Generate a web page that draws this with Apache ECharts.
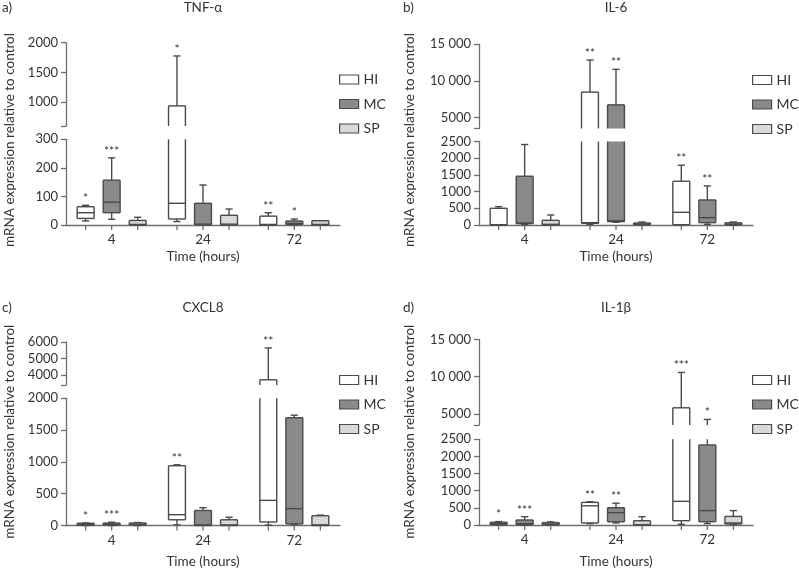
<!DOCTYPE html>
<html><head><meta charset="utf-8">
<script src="https://cdn.jsdelivr.net/npm/echarts@6/dist/echarts.min.js"></script>
<style>html,body{margin:0;padding:0;background:#fff}#c{width:799px;height:574px}</style>
</head><body><div id="c"></div>
<script>
// ---------------- DATA ----------------
const categories = ['4', '24', '72'];
const groups = ['HI', 'MC', 'SP'];
// each box: [min, Q1, median, Q3, max]
const tnfHI = [[14, 23, 43, 64, 69], [12, 21, 76, 938, 1777], [0, 0, 2, 31, 43]];
const tnfMC = [[20, 43, 80, 157, 235], [0, 0, 3, 76, 140], [0, 2, 5, 14, 21]];
const tnfSP = [[0, 0, 2, 16, 27], [0, 0, 3, 34, 56], [0, 0, 2, 15, 15]];
const tnfStarsHI = ['*', '*', '**'];
const tnfStarsMC = ['***', '', '*'];
const tnfStarsSP = ['', '', ''];

const il6HI = [[0, 0, 10, 500, 550], [20, 50, 70, 8470, 12850], [5, 10, 380, 1310, 1790]];
const il6MC = [[10, 40, 60, 1460, 2410], [80, 100, 130, 6730, 11580], [20, 70, 220, 750, 1170]];
const il6SP = [[0, 0, 20, 140, 300], [0, 10, 30, 60, 90], [0, 10, 30, 65, 90]];
const il6StarsHI = ['', '**', '**'];
const il6StarsMC = ['', '**', '**'];
const il6StarsSP = ['', '', ''];

const cxcl8HI = [[0, 5, 15, 35, 40], [10, 90, 170, 940, 955], [5, 55, 395, 3715, 5640]];
const cxcl8MC = [[0, 10, 20, 38, 52], [0, 0, 10, 236, 280], [15, 25, 265, 1695, 1735]];
const cxcl8SP = [[0, 10, 20, 40, 47], [0, 0, 10, 90, 130], [0, 0, 10, 153, 163]];
const cxcl8StarsHI = ['*', '**', '**'];
const cxcl8StarsMC = ['***', '', ''];
const cxcl8StarsSP = ['', '', ''];

const il1bHI = [[0, 10, 40, 80, 100], [40, 60, 560, 660, 680], [20, 125, 690, 5810, 10560]];
const il1bMC = [[0, 10, 40, 146, 243], [60, 95, 360, 505, 635], [40, 95, 420, 2335, 4250]];
const il1bSP = [[0, 10, 30, 70, 90], [0, 0, 10, 125, 243], [10, 30, 60, 250, 420]];
const il1bStarsHI = ['*', '**', '***'];
const il1bStarsMC = ['***', '**', '*'];
const il1bStarsSP = ['', '', ''];

// axis tick values
const tnfTopTicks = [600, 1000, 1500, 2000];
const il6TopTicks = [3500, 5000, 10000, 15000];
const cxcl8TopTicks = [3400, 4000, 5000, 6000];
const il1bTopTicks = [3500, 5000, 10000, 15000];

// ---------------- LAYOUT / STYLE ----------------
const FONT = 'Lato';
const TXT = '#333333';
const AXIS = '#6e6e6e';
const STROKE = '#4a4a4a';
const fills = { HI: '#ffffff', MC: '#8a8a8a', SP: '#d9d9d9' };
const offsets = { HI: -0.285, MC: 0, SP: 0.285 };

const panels = [
  { letter: 'a)', title: 'TNF-α', left: 66, width: 274, topSeg: [42.7, 126], botSeg: [139.3, 225],
    topTicks: tnfTopTicks, botMax: 300, botInterval: 100,
    data: { HI: tnfHI, MC: tnfMC, SP: tnfSP }, stars: { HI: tnfStarsHI, MC: tnfStarsMC, SP: tnfStarsSP },
    legend: [339, 71], letterPos: [2, 8], titleY: 8, xNameY: 256.7, yNamePos: [9.5, 140] },
  { letter: 'b)', title: 'IL-6', left: 479, width: 274, topSeg: [44.3, 128.5], botSeg: [141.5, 225],
    topTicks: il6TopTicks, botMax: 2500, botInterval: 500,
    data: { HI: il6HI, MC: il6MC, SP: il6SP }, stars: { HI: il6StarsHI, MC: il6StarsMC, SP: il6StarsSP },
    legend: [752, 71.5], letterPos: [403, 8], titleY: 8, xNameY: 256.7, yNamePos: [409.5, 140] },
  { letter: 'c)', title: 'CXCL8', left: 66, width: 274, topSeg: [342, 385], botSeg: [398.3, 525.5],
    topTicks: cxcl8TopTicks, botMax: 2000, botInterval: 500,
    data: { HI: cxcl8HI, MC: cxcl8MC, SP: cxcl8SP }, stars: { HI: cxcl8StarsHI, MC: cxcl8StarsMC, SP: cxcl8StarsSP },
    legend: [339, 371.5], letterPos: [2, 308], titleY: 308, xNameY: 561.7, yNamePos: [9.5, 431.7] },
  { letter: 'd)', title: 'IL-1β', left: 479, width: 274, topSeg: [339.4, 425], botSeg: [439.3, 525],
    topTicks: il1bTopTicks, botMax: 2500, botInterval: 500,
    data: { HI: il1bHI, MC: il1bMC, SP: il1bSP }, stars: { HI: il1bStarsHI, MC: il1bStarsMC, SP: il1bStarsSP },
    legend: [752, 371.5], letterPos: [403, 308], titleY: 308, xNameY: 561.7, yNamePos: [409.5, 431.7] }
];

function fmt(v) {
  const s = String(v);
  return v >= 10000 ? s.replace(/\B(?=(\d{3})+(?!\d))/g, ' ') : s;
}

function makeRender(lo, hi, off, fill, isBottom, stars) {
  return function (params, api) {
    const i = api.value(0);
    const mn = api.value(1), q1 = api.value(2), md = api.value(3), q3 = api.value(4), mx = api.value(5);
    const band = api.size([1, 0])[0];
    const cx = api.coord([i, lo])[0] + off * band;
    const bw = band * 0.185, hw = bw / 2, cw = 3.6;
    const cl = v => Math.max(lo, Math.min(hi, v));
    const Y = v => api.coord([i, cl(v)])[1];
    const ls = { stroke: STROKE, lineWidth: 1.4 };
    const L = (x1, y1, x2, y2, st) => ({ type: 'line', shape: { x1, y1, x2, y2 }, style: st || ls });
    const ch = [];
    if (mx > lo && q3 < hi) {
      ch.push(L(cx, Y(q3), cx, Y(mx)));
      if (mx <= hi) ch.push(L(cx - cw, Y(mx), cx + cw, Y(mx)));
    }
    if (q1 > lo && mn < hi) {
      ch.push(L(cx, Y(mn), cx, Y(q1)));
      if (mn >= lo) ch.push(L(cx - cw, Y(mn), cx + cw, Y(mn)));
    }
    if (q3 > lo && q1 < hi) {
      const yt = Y(q3), yb = Y(q1);
      ch.push({ type: 'rect', shape: { x: cx - hw, y: yt, width: bw, height: yb - yt }, style: { fill: fill } });
      ch.push(L(cx - hw, yt, cx - hw, yb));
      ch.push(L(cx + hw, yt, cx + hw, yb));
      if (q3 <= hi) ch.push(L(cx - hw, yt, cx + hw, yt));
      if (q1 >= lo) ch.push(L(cx - hw, yb, cx + hw, yb));
      if (md >= lo && md <= hi) ch.push(L(cx - hw, Y(md), cx + hw, Y(md)));
    }
    if (stars[i] && mx >= lo && mx <= hi) {
      ch.push({ type: 'text', x: cx, y: Y(mx) - 1,
        style: { text: stars[i], textAlign: 'center', textVerticalAlign: 'bottom', fontSize: 12, fontFamily: FONT, fill: TXT } });
    }
    if (isBottom) {
      const y0 = Y(lo);
      ch.push(L(cx, y0, cx, y0 + 5, { stroke: AXIS, lineWidth: 1.3 }));
    }
    return { type: 'group', children: ch };
  };
}

const grid = [], xAxis = [], yAxis = [], series = [], legend = [], graphic = [];
const axisLineStyle = { color: AXIS, width: 1.3 };
const labelStyle = { color: TXT, fontSize: 13, fontFamily: FONT };

panels.forEach((p, k) => {
  const ti = 2 * k, bi = 2 * k + 1;
  grid.push({ left: p.left, width: p.width, top: p.topSeg[0], height: p.topSeg[1] - p.topSeg[0], outerBoundsMode: 'none', containLabel: false });
  grid.push({ left: p.left, width: p.width, top: p.botSeg[0], height: p.botSeg[1] - p.botSeg[0], outerBoundsMode: 'none', containLabel: false });
  xAxis.push({ type: 'category', gridIndex: ti, data: categories, show: false });
  xAxis.push({ type: 'category', gridIndex: bi, data: categories,
    axisLine: { lineStyle: axisLineStyle }, axisTick: { show: false },
    axisLabel: { margin: 8, ...labelStyle, fontSize: 13.5 }, splitLine: { show: false } });
  const tt = p.topTicks;
  yAxis.push({ type: 'value', gridIndex: ti, min: tt[0], max: tt[tt.length - 1],
    axisLine: { show: true, lineStyle: axisLineStyle },
    axisTick: { show: true, length: 5, lineStyle: axisLineStyle, customValues: tt },
    axisLabel: { margin: 8, customValues: tt.slice(1), formatter: fmt, ...labelStyle },
    splitLine: { show: false } });
  yAxis.push({ type: 'value', gridIndex: bi, min: 0, max: p.botMax, interval: p.botInterval,
    axisLine: { show: true, lineStyle: axisLineStyle },
    axisTick: { show: true, length: 5, lineStyle: axisLineStyle },
    axisLabel: { margin: 8, formatter: fmt, ...labelStyle },
    splitLine: { show: false } });

  groups.forEach(g => {
    const rows = p.data[g].map((d, i) => [i].concat(d));
    series.push({ type: 'custom', name: g, xAxisIndex: ti, yAxisIndex: ti, data: rows, encode: { x: 0, y: 1 },
      itemStyle: { color: fills[g], borderColor: STROKE },
      renderItem: makeRender(tt[0], tt[tt.length - 1], offsets[g], fills[g], false, p.stars[g]) });
    series.push({ type: 'custom', name: g, xAxisIndex: bi, yAxisIndex: bi, data: rows, encode: { x: 0, y: 1 },
      itemStyle: { color: fills[g], borderColor: STROKE },
      renderItem: makeRender(0, p.botMax, offsets[g], fills[g], true, p.stars[g]) });
  });

  legend.push({ orient: 'vertical', left: p.legend[0], top: p.legend[1], padding: 0,
    itemWidth: 19, itemHeight: 9, itemGap: 7.5, selectedMode: false,
    textStyle: { color: TXT, fontSize: 14, fontFamily: FONT, lineHeight: 17 },
    data: groups.map(g => ({ name: g, icon: 'rect', itemStyle: { color: fills[g], borderColor: STROKE, borderWidth: 1.2 } })) });

  const cxPlot = p.left + p.width / 2;
  graphic.push({ type: 'text', x: p.letterPos[0], y: p.letterPos[1],
    style: { text: p.letter, textAlign: 'left', textVerticalAlign: 'middle', fontSize: 13.5, fontFamily: FONT, fill: TXT } });
  graphic.push({ type: 'text', x: cxPlot, y: p.titleY,
    style: { text: p.title, textAlign: 'center', textVerticalAlign: 'middle', fontSize: 13.5, fontFamily: FONT, fill: TXT } });
  graphic.push({ type: 'text', x: cxPlot, y: p.xNameY,
    style: { text: 'Time (hours)', textAlign: 'center', textVerticalAlign: 'middle', fontSize: 13.5, fontFamily: FONT, fill: TXT } });
  graphic.push({ type: 'text', x: p.yNamePos[0], y: p.yNamePos[1], rotation: Math.PI / 2,
    style: { text: 'mRNA expression relative to control', textAlign: 'center', textVerticalAlign: 'middle', fontSize: 13.5, fontFamily: FONT, fill: TXT } });
});

const chart = echarts.init(document.getElementById('c'), null, { renderer: 'canvas' });
chart.setOption({ animation: false, backgroundColor: '#ffffff', grid, xAxis, yAxis, series, legend, graphic });
</script>
</body></html>
